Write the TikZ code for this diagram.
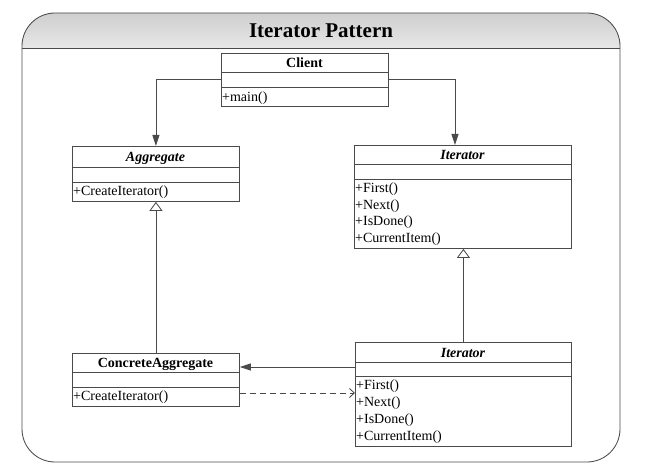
\documentclass[tikz,border=0pt]{standalone}
\usepackage{fontspec}
\setmainfont{Liberation Serif}
\usetikzlibrary{arrows.meta}
\definecolor{linec}{HTML}{4A4A4A}
\begin{document}
\begin{tikzpicture}[x=1pt,y=-1pt,
  line/.style={draw=linec, line width=0.85pt},
  cls/.style={line, anchor=north west, inner sep=0pt, fill=white},
  ttl/.style={anchor=base, inner sep=0pt, font=\fontsize{14}{16}\selectfont\bfseries},
  attl/.style={ttl, font=\fontsize{14}{16}\selectfont\bfseries\itshape},
  meth/.style={anchor=base west, inner sep=0pt, font=\fontsize{14}{16}\selectfont},
  assoc/.style={line, -{Triangle[width=7pt,length=11pt]}},
  inherit/.style={line, -{Triangle[open,width=13pt,length=9pt,fill=white]}},
  depend/.style={line, dash pattern=on 6pt off 4pt, -{Straight Barb[width=9pt,length=5pt]}}
]
\useasboundingbox (0,0) rectangle (650,473);
% frame and header
\begin{scope}
  \clip (0,0) rectangle (650,48);
  \shade[top color=gray!38, bottom color=white, rounded corners=33pt] (22,13) rectangle (620,83);
\end{scope}
\draw[line, rounded corners=33pt] (22,13) rectangle (620,462);
\draw[line] (22,48) -- (620,48);
\node[anchor=base, inner sep=0pt, font=\fontsize{21}{25}\selectfont\bfseries] (title) at (321,38) {Iterator Pattern};

% Client
\node[cls, minimum width=167pt, minimum height=53pt] (client) at (221,53) {};
\draw[line] (client.west |- 0,72) -- (client.east |- 0,72);
\draw[line] (client.west |- 0,87) -- (client.east |- 0,87);
\node[ttl] (clientT) at (304.5,67.5) {Client};
\node[meth] (clientM) at (222,102) {+main()};

% Aggregate
\node[cls, minimum width=167pt, minimum height=55pt] (agg) at (72,146) {};
\draw[line] (agg.west |- 0,167) -- (agg.east |- 0,167);
\draw[line] (agg.west |- 0,182) -- (agg.east |- 0,182);
\node[attl] (aggT) at (155.5,161.5) {Aggregate};
\node[meth] (aggM) at (73,196) {+CreateIterator()};

% Iterator (abstract)
\node[cls, minimum width=217pt, minimum height=103pt] (it1) at (354,145) {};
\draw[line] (it1.west |- 0,164) -- (it1.east |- 0,164);
\draw[line] (it1.west |- 0,179) -- (it1.east |- 0,179);
\node[attl] (it1T) at (462.5,159.5) {Iterator};
\node[meth] (it1a) at (355,192.5) {+First()};
\node[meth] (it1b) at (355,209) {+Next()};
\node[meth] (it1c) at (355,225.5) {+IsDone()};
\node[meth] (it1d) at (355,242) {+CurrentItem()};

% ConcreteAggregate
\node[cls, minimum width=167pt, minimum height=53pt] (cagg) at (72,353) {};
\draw[line] (cagg.west |- 0,372) -- (cagg.east |- 0,372);
\draw[line] (cagg.west |- 0,387) -- (cagg.east |- 0,387);
\node[ttl] (caggT) at (155.5,367.5) {ConcreteAggregate};
\node[meth] (caggM) at (73,400) {+CreateIterator()};

% Iterator (concrete)
\node[cls, minimum width=216pt, minimum height=104pt] (it2) at (355,342) {};
\draw[line] (it2.west |- 0,362) -- (it2.east |- 0,362);
\draw[line] (it2.west |- 0,376) -- (it2.east |- 0,376);
\node[attl] (it2T) at (463,357) {Iterator};
\node[meth] (it2a) at (356,389) {+First()};
\node[meth] (it2b) at (356,406) {+Next()};
\node[meth] (it2c) at (356,423) {+IsDone()};
\node[meth] (it2d) at (356,440) {+CurrentItem()};

% connectors
\draw[assoc] (client.west |- 0,79) -| (agg.north);
\draw[assoc] (client.east |- 0,79) -| (it1.north -| 455,0);
\draw[inherit] (cagg.north) -- (agg.south);
\draw[inherit] (it2.north) -- (it2.north |- it1.south);
\draw[assoc] (it2.west |- 0,367) -- (cagg.east |- 0,367);
\draw[depend] (cagg.east |- 0,393) -- (it2.west |- 0,393);
\end{tikzpicture}
\end{document}
